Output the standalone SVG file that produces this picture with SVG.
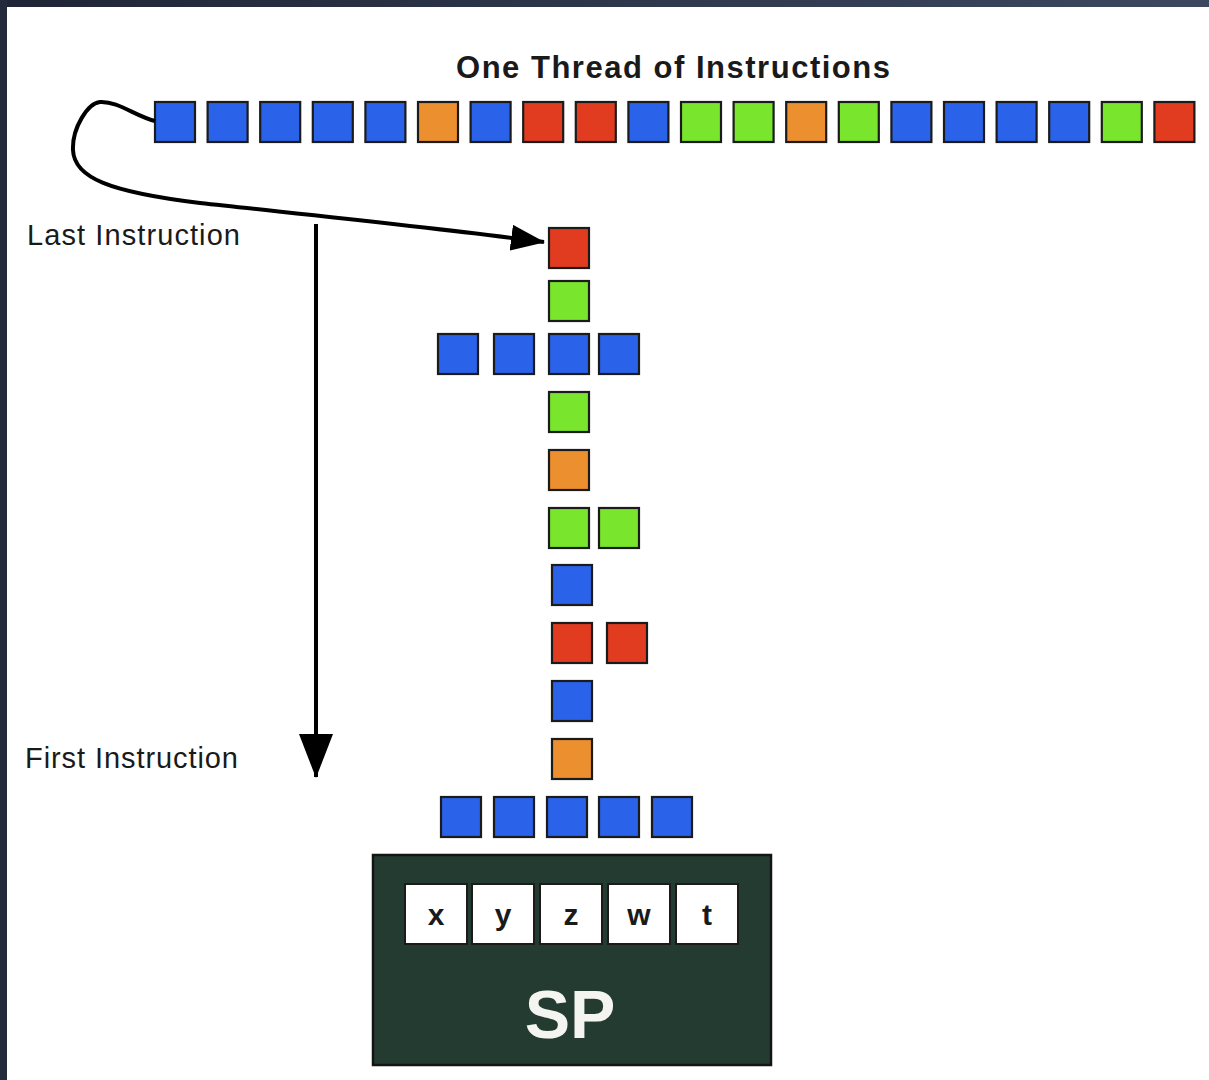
<svg xmlns="http://www.w3.org/2000/svg" width="1209" height="1080" viewBox="0 0 1209 1080">
  <defs>
    <linearGradient id="frameTop" x1="0" y1="0" x2="1" y2="0">
      <stop offset="0" stop-color="#1f2535"/>
      <stop offset="1" stop-color="#3d4860"/>
    </linearGradient>
    <marker id="headSide" viewBox="0 0 34 26" refX="33" refY="13" markerWidth="34" markerHeight="26" markerUnits="userSpaceOnUse" orient="auto">
      <path d="M0,0 L34,13 L0,26 Z" fill="#000"/>
    </marker>
    <marker id="headDown" viewBox="0 0 44 34" refX="43" refY="17" markerWidth="44" markerHeight="34" markerUnits="userSpaceOnUse" orient="auto">
      <path d="M0,0 L44,17 L0,34 Z" fill="#000"/>
    </marker>
  </defs>
  <style>
    .sq { stroke: #1b1b1b; stroke-width: 2.2; }
    .b { fill: #2a62ea; }
    .o { fill: #ec8f2e; }
    .r { fill: #e23c20; }
    .g { fill: #79e52c; }
    .lbl { font-family: "Liberation Sans", Arial, sans-serif; fill: #1a1a1a; }
    .title { font-weight: bold; font-size: 31px; }
    .side { font-size: 29px; }
    .cell { fill: #ffffff; stroke: #1b1b1b; stroke-width: 2; }
    .reg { font-family: "Liberation Sans", Arial, sans-serif; font-weight: bold; font-size: 30px; fill: #1a1a1a; text-anchor: middle; }
    .wire { fill: none; stroke: #000; stroke-width: 4; }
  </style>

  <!-- page and frame -->
  <rect x="0" y="0" width="1209" height="1080" fill="#ffffff"/>
  <rect x="0" y="0" width="1209" height="7" fill="url(#frameTop)"/>
  <rect x="0" y="0" width="7" height="1080" fill="#222a3b"/>

  <!-- labels -->
  <g id="title">
    <text class="lbl title" x="456" y="78" textLength="434" lengthAdjust="spacing">One Thread of Instructions</text>
  </g>
  <g id="label-last">
    <text class="lbl side" x="27" y="245" textLength="213" lengthAdjust="spacing">Last Instruction</text>
  </g>
  <g id="label-first">
    <text class="lbl side" x="25" y="768" textLength="213" lengthAdjust="spacing">First Instruction</text>
  </g>

  <!-- the instruction thread -->
  <g id="thread">
    <g id="t01"><rect class="sq b" x="155" y="102" width="40" height="40"/></g>
    <g id="t02"><rect class="sq b" x="207.6" y="102" width="40" height="40"/></g>
    <g id="t03"><rect class="sq b" x="260.2" y="102" width="40" height="40"/></g>
    <g id="t04"><rect class="sq b" x="312.8" y="102" width="40" height="40"/></g>
    <g id="t05"><rect class="sq b" x="365.4" y="102" width="40" height="40"/></g>
    <g id="t06"><rect class="sq o" x="418" y="102" width="40" height="40"/></g>
    <g id="t07"><rect class="sq b" x="470.6" y="102" width="40" height="40"/></g>
    <g id="t08"><rect class="sq r" x="523.2" y="102" width="40" height="40"/></g>
    <g id="t09"><rect class="sq r" x="575.8" y="102" width="40" height="40"/></g>
    <g id="t10"><rect class="sq b" x="628.4" y="102" width="40" height="40"/></g>
    <g id="t11"><rect class="sq g" x="681" y="102" width="40" height="40"/></g>
    <g id="t12"><rect class="sq g" x="733.6" y="102" width="40" height="40"/></g>
    <g id="t13"><rect class="sq o" x="786.2" y="102" width="40" height="40"/></g>
    <g id="t14"><rect class="sq g" x="838.8" y="102" width="40" height="40"/></g>
    <g id="t15"><rect class="sq b" x="891.4" y="102" width="40" height="40"/></g>
    <g id="t16"><rect class="sq b" x="944" y="102" width="40" height="40"/></g>
    <g id="t17"><rect class="sq b" x="996.6" y="102" width="40" height="40"/></g>
    <g id="t18"><rect class="sq b" x="1049.2" y="102" width="40" height="40"/></g>
    <g id="t19"><rect class="sq g" x="1101.8" y="102" width="40" height="40"/></g>
    <g id="t20"><rect class="sq r" x="1154.4" y="102" width="40" height="40"/></g>
  </g>

  <!-- the same instructions stacked, last on top -->
  <g id="stack">
    <g id="s01"><rect class="sq r" x="549" y="228" width="40" height="40"/></g>
    <g id="s02"><rect class="sq g" x="549" y="281" width="40" height="40"/></g>
    <g id="s03a"><rect class="sq b" x="438" y="334" width="40" height="40"/></g>
    <g id="s03b"><rect class="sq b" x="494" y="334" width="40" height="40"/></g>
    <g id="s03c"><rect class="sq b" x="549" y="334" width="40" height="40"/></g>
    <g id="s03d"><rect class="sq b" x="599" y="334" width="40" height="40"/></g>
    <g id="s04"><rect class="sq g" x="549" y="392" width="40" height="40"/></g>
    <g id="s05"><rect class="sq o" x="549" y="450" width="40" height="40"/></g>
    <g id="s06a"><rect class="sq g" x="549" y="508" width="40" height="40"/></g>
    <g id="s06b"><rect class="sq g" x="599" y="508" width="40" height="40"/></g>
    <g id="s07"><rect class="sq b" x="552" y="565" width="40" height="40"/></g>
    <g id="s08a"><rect class="sq r" x="552" y="623" width="40" height="40"/></g>
    <g id="s08b"><rect class="sq r" x="607" y="623" width="40" height="40"/></g>
    <g id="s09"><rect class="sq b" x="552" y="681" width="40" height="40"/></g>
    <g id="s10"><rect class="sq o" x="552" y="739" width="40" height="40"/></g>
    <g id="s11a"><rect class="sq b" x="441" y="797" width="40" height="40"/></g>
    <g id="s11b"><rect class="sq b" x="494" y="797" width="40" height="40"/></g>
    <g id="s11c"><rect class="sq b" x="547" y="797" width="40" height="40"/></g>
    <g id="s11d"><rect class="sq b" x="599" y="797" width="40" height="40"/></g>
    <g id="s11e"><rect class="sq b" x="652" y="797" width="40" height="40"/></g>
  </g>

  <!-- stream processor with its registers -->
  <g id="sp">
    <rect x="373" y="855" width="398" height="210" fill="#243b31" stroke="#141414" stroke-width="2.5"/>
    <rect class="cell" x="405" y="884" width="62" height="60"/>
    <rect class="cell" x="472" y="884" width="62" height="60"/>
    <rect class="cell" x="540" y="884" width="62" height="60"/>
    <rect class="cell" x="608" y="884" width="62" height="60"/>
    <rect class="cell" x="676" y="884" width="62" height="60"/>
    <text class="reg" x="436" y="925">x</text>
    <text class="reg" x="503" y="925">y</text>
    <text class="reg" x="571" y="925">z</text>
    <text class="reg" x="639" y="925">w</text>
    <text class="reg" x="707" y="925">t</text>
    <text x="570" y="1038" font-family="'Liberation Sans', Arial, sans-serif" font-weight="bold" font-size="68" fill="#f4f4f0" text-anchor="middle">SP</text>
  </g>

  <!-- connectors -->
  <g id="connectors">
    <path class="wire" d="M155,121 C135,116 118,101 100,102 C88,103 72,128 73,150 C74,178 110,192 200,203 C300,214 430,227 544,242" marker-end="url(#headSide)"/>
    <path class="wire" stroke-width="5" d="M316,224 L316,777" marker-end="url(#headDown)"/>
  </g>
</svg>
